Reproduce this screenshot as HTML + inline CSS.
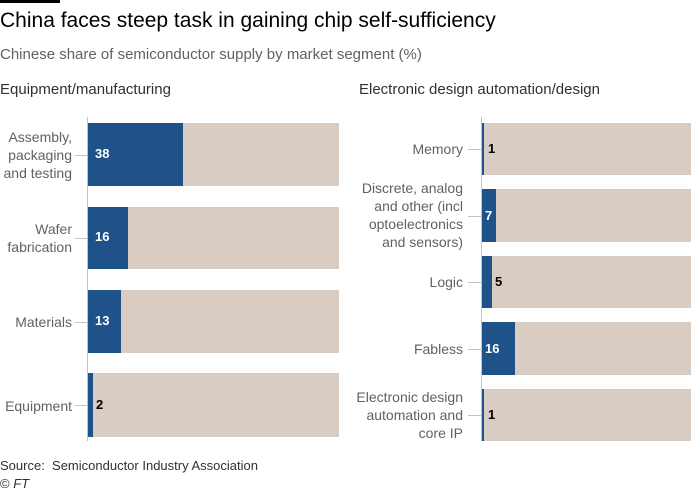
<!DOCTYPE html><html><head><style>
body{margin:0;width:700px;height:493px;background:#fff;font-family:"Liberation Sans",sans-serif;position:relative;overflow:hidden}
div{position:absolute}
.l{font-size:14px;color:#66605c;text-align:right;line-height:18px;white-space:nowrap}
.b{background:#d8ccc3}.f{background:#1f5289}
.v{font-size:13px;font-weight:bold}
.t{height:1px;background:#ccc1b7}
</style></head><body>
<div style="left:0;top:0;width:60px;height:3px;background:#000"></div>
<div style="left:0;top:9px;font-size:21px;color:#000">China faces steep task in gaining chip self-sufficiency</div>
<div style="left:0;top:46px;font-size:15px;color:#66605c">Chinese share of semiconductor supply by market segment (%)</div>
<div style="left:0;top:81px;font-size:15px;color:#33302e">Equipment/manufacturing</div>
<div style="left:359px;top:81px;font-size:15px;color:#33302e">Electronic design automation/design</div>
<div style="left:87px;top:117px;width:1px;height:324px;background:#ccc1b7"></div>
<div style="left:481px;top:117px;width:1px;height:324px;background:#ccc1b7"></div>

<div class="b" style="left:88px;top:123px;width:251px;height:63px"></div><div class="f" style="left:88px;top:123px;width:95px;height:63px"></div><div class="v" style="left:95px;top:146px;color:#fff">38</div>
<div class="l" style="right:628px;top:128px">Assembly,<br>packaging<br>and testing</div><div class="t" style="left:75px;top:155px;width:12px"></div>
<div class="b" style="left:88px;top:207px;width:251px;height:62px"></div><div class="f" style="left:88px;top:207px;width:40px;height:62px"></div><div class="v" style="left:95px;top:229px;color:#fff">16</div>
<div class="l" style="right:628px;top:220px">Wafer<br>fabrication</div><div class="t" style="left:75px;top:238px;width:12px"></div>
<div class="b" style="left:88px;top:290px;width:251px;height:63px"></div><div class="f" style="left:88px;top:290px;width:33px;height:63px"></div><div class="v" style="left:95px;top:313px;color:#fff">13</div>
<div class="l" style="right:628px;top:313px">Materials</div><div class="t" style="left:75px;top:322px;width:12px"></div>
<div class="b" style="left:88px;top:373px;width:251px;height:64px"></div><div class="f" style="left:88px;top:373px;width:5px;height:64px"></div><div class="v" style="left:96px;top:397px;color:#000">2</div>
<div class="l" style="right:628px;top:397px">Equipment</div><div class="t" style="left:75px;top:405px;width:12px"></div>

<div class="b" style="left:482px;top:123px;width:209px;height:52px"></div><div class="f" style="left:482px;top:123px;width:2px;height:52px"></div><div class="v" style="left:488px;top:141px;color:#000">1</div>
<div class="l" style="right:237px;top:140px">Memory</div><div class="t" style="left:468px;top:149px;width:13px"></div>
<div class="b" style="left:482px;top:189px;width:209px;height:53px"></div><div class="f" style="left:482px;top:189px;width:14px;height:53px"></div><div class="v" style="left:485px;top:208px;color:#fff">7</div>
<div class="l" style="right:237px;top:179px">Discrete, analog<br>and other (incl<br>optoelectronics<br>and sensors)</div><div class="t" style="left:468px;top:216px;width:13px"></div>
<div class="b" style="left:482px;top:256px;width:209px;height:52px"></div><div class="f" style="left:482px;top:256px;width:10px;height:52px"></div><div class="v" style="left:495px;top:274px;color:#000">5</div>
<div class="l" style="right:237px;top:273px">Logic</div><div class="t" style="left:468px;top:282px;width:13px"></div>
<div class="b" style="left:482px;top:322px;width:209px;height:53px"></div><div class="f" style="left:482px;top:322px;width:33px;height:53px"></div><div class="v" style="left:485px;top:341px;color:#fff">16</div>
<div class="l" style="right:237px;top:340px">Fabless</div><div class="t" style="left:468px;top:349px;width:13px"></div>
<div class="b" style="left:482px;top:389px;width:209px;height:52px"></div><div class="f" style="left:482px;top:389px;width:2px;height:52px"></div><div class="v" style="left:488px;top:407px;color:#000">1</div>
<div class="l" style="right:237px;top:388px">Electronic design<br>automation and<br>core IP</div><div class="t" style="left:468px;top:415px;width:13px"></div>

<div style="left:0;top:458px;font-size:13px;color:#33302e">Source:&nbsp; Semiconductor Industry Association</div>
<div style="left:0;top:476px;font-size:13px;color:#33302e">© <i>FT</i></div>
</body></html>
